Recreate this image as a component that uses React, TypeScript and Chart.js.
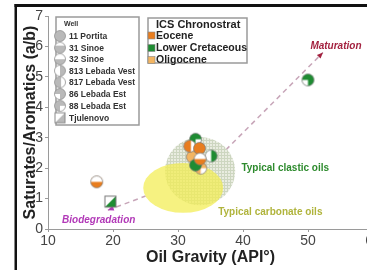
import React, { useEffect, useRef } from "react";
import { Chart, registerables } from "chart.js";
Chart.register(...registerables);

const FONT = "Arial, 'Liberation Sans', sans-serif";

// ---- data ----
const ageGroups = ["Eocene", "Lower Cretaceous", "Oligocene"];
const ageColors = ["#e87d1e", "#1e8c32", "#f3b562"];
const wellNames = [
  "11 Portita",
  "31 Sinoe",
  "32 Sinoe",
  "813 Lebada Vest",
  "817 Lebada Vest",
  "86 Lebada Est",
  "88 Lebada Est",
  "Tjulenovo",
];

const sampleAPI = [32.7, 17.5, 19.6, 50.0, 31.8, 33.3, 32.2, 33.4, 35.1, 33.5, 32.7];
const sampleSA = [2.1, 1.55, 0.9, 4.9, 2.72, 2.65, 2.37, 2.3, 2.4, 2.0, 2.95];
const sampleAge = [
  "Lower Cretaceous",
  "Eocene",
  "Lower Cretaceous",
  "Lower Cretaceous",
  "Eocene",
  "Eocene",
  "Oligocene",
  "Eocene",
  "Lower Cretaceous",
  "Oligocene",
  "Lower Cretaceous",
];
const sampleWell = [
  "11 Portita",
  "32 Sinoe",
  "Tjulenovo",
  "86 Lebada Est",
  "817 Lebada Vest",
  "11 Portita",
  "11 Portita",
  "32 Sinoe",
  "813 Lebada Vest",
  "88 Lebada Est",
  "88 Lebada Est",
];

// trend (biodegradation -> maturation)
const trendAPI = [19.2, 33.4, 52.3];
const trendSA = [0.62, 1.75, 5.8];

// fields: [centre API, centre S/A, half-width API, half-height S/A]
const carbonateField = [30.8, 1.35, 6.15, 0.82];
const clasticField = [33.4, 1.9, 5.4, 1.12];

const annotationText = ["Maturation", "Biodegradation", "Typical clastic oils", "Typical carbonate oils"];
const annotationAPI = [54.3, 17.8, 46.5, 44.2];
const annotationSA = [5.99, 0.3, 2.0, 0.56];

// ---- marker helpers ----
function paintWhite(g: CanvasRenderingContext2D, well: string, cx: number, cy: number, r: number) {
  g.fillStyle = "#fff";
  switch (well) {
    case "31 Sinoe":
      g.fillRect(cx - r - 1, cy - r - 1, 2 * r + 2, r * 0.6 + 1);
      break;
    case "32 Sinoe":
      g.fillRect(cx - r - 1, cy - r - 1, 2 * r + 2, r + 1);
      break;
    case "813 Lebada Vest":
      g.fillRect(cx - r - 1, cy - r - 1, r + 1, 2 * r + 2);
      break;
    case "817 Lebada Vest":
      g.fillRect(cx + r * 0.2, cy - r - 1, r + 1, 2 * r + 2);
      break;
    case "86 Lebada Est":
      g.beginPath();
      g.moveTo(cx, cy);
      g.arc(cx, cy, r + 1, Math.PI * 0.5, Math.PI);
      g.closePath();
      g.fill();
      break;
    case "88 Lebada Est":
      g.beginPath();
      g.moveTo(cx, cy);
      g.arc(cx, cy, r + 1, 0, Math.PI * 0.5);
      g.closePath();
      g.fill();
      break;
    default:
      break;
  }
}

function makeMarker(color: string, well: string, r = 6, edge = "#777"): HTMLCanvasElement {
  const size = Math.ceil(2 * r + 3);
  const c = document.createElement("canvas");
  c.width = size;
  c.height = size;
  const g = c.getContext("2d")!;
  const cx = size / 2;
  const cy = size / 2;
  if (well === "Tjulenovo") {
    const s = 2 * r - 1;
    const x0 = cx - s / 2;
    const y0 = cy - s / 2;
    g.fillStyle = "#fff";
    g.fillRect(x0, y0, s, s);
    g.beginPath();
    g.moveTo(x0 + s, y0);
    g.lineTo(x0 + s, y0 + s);
    g.lineTo(x0, y0 + s);
    g.closePath();
    g.fillStyle = color;
    g.fill();
    g.strokeStyle = edge;
    g.lineWidth = 1;
    g.strokeRect(x0, y0, s, s);
    return c;
  }
  g.save();
  g.beginPath();
  g.arc(cx, cy, r, 0, Math.PI * 2);
  g.fillStyle = color;
  g.fill();
  g.clip();
  paintWhite(g, well, cx, cy, r);
  g.restore();
  g.beginPath();
  g.arc(cx, cy, r, 0, Math.PI * 2);
  g.strokeStyle = edge;
  g.lineWidth = 0.7;
  g.stroke();
  return c;
}

function arrowHead(ctx: CanvasRenderingContext2D, x: number, y: number, ang: number, color: string) {
  const L = 6;
  const W = 2.6;
  ctx.save();
  ctx.translate(x, y);
  ctx.rotate(ang);
  ctx.beginPath();
  ctx.moveTo(0, 0);
  ctx.lineTo(-L, -W);
  ctx.lineTo(-L, W);
  ctx.closePath();
  ctx.fillStyle = color;
  ctx.fill();
  ctx.restore();
}

export default function App() {
  const ref = useRef<HTMLCanvasElement>(null);

  useEffect(() => {
    const canvas = ref.current!;

    const pattern = (() => {
      const p = document.createElement("canvas");
      p.width = 3;
      p.height = 3;
      const g = p.getContext("2d")!;
      g.fillStyle = "#e9ece0";
      g.fillRect(0, 0, 3, 3);
      g.fillStyle = "#cdd6c0";
      g.fillRect(2, 0, 1, 3);
      g.fillRect(0, 2, 3, 1);
      return p;
    })();

    const pointDatasets = ageGroups.map((age, k) => {
      const idx = sampleAge.map((a, i) => (a === age ? i : -1)).filter((i) => i >= 0);
      return {
        label: age,
        data: idx.map((i) => ({ x: sampleAPI[i], y: sampleSA[i] })),
        pointStyle: idx.map((i) => makeMarker(ageColors[k], sampleWell[i])),
        pointRadius: 6,
        order: 1,
      } as any;
    });

    const ellipse = (chart: any, f: number[]) => {
      const xs = chart.scales.x;
      const ys = chart.scales.y;
      const cx = xs.getPixelForValue(f[0]);
      const cy = ys.getPixelForValue(f[1]);
      const rx = Math.abs(xs.getPixelForValue(f[0] + f[2]) - cx);
      const ry = Math.abs(ys.getPixelForValue(f[1] + f[3]) - cy);
      const ctx = chart.ctx as CanvasRenderingContext2D;
      ctx.beginPath();
      ctx.ellipse(cx, cy, rx, ry, 0, 0, Math.PI * 2);
    };

    const customPlugin = {
      id: "custom",
      beforeDraw(chart: any) {
        const ctx = chart.ctx as CanvasRenderingContext2D;
        ctx.save();
        ctx.fillStyle = "#fff";
        ctx.fillRect(0, 0, chart.width, chart.height);
        ctx.fillStyle = "#111";
        ctx.fillRect(14.5, 4, chart.width, 3);
        ctx.fillRect(14.5, 4, 2.5, chart.height);
        ctx.restore();
      },
      afterDatasetDraw(chart: any, args: any) {
        if (args.index !== 0) return;
        const ctx = chart.ctx as CanvasRenderingContext2D;
        const xs = chart.scales.x;
        const ys = chart.scales.y;
        ctx.save();
        // hide the trend line under the fields
        ellipse(chart, carbonateField);
        ctx.fillStyle = "#fff";
        ctx.fill();
        ellipse(chart, clasticField);
        ctx.fillStyle = ctx.createPattern(pattern, "repeat")!;
        ctx.fill();
        ellipse(chart, carbonateField);
        ctx.fillStyle = "rgba(243,237,80,0.72)";
        ctx.fill();
        // arrowheads
        const n = trendAPI.length;
        const p0 = { x: xs.getPixelForValue(trendAPI[0]), y: ys.getPixelForValue(trendSA[0]) };
        const p1 = { x: xs.getPixelForValue(trendAPI[1]), y: ys.getPixelForValue(trendSA[1]) };
        const pa = { x: xs.getPixelForValue(trendAPI[n - 2]), y: ys.getPixelForValue(trendSA[n - 2]) };
        const pb = { x: xs.getPixelForValue(trendAPI[n - 1]), y: ys.getPixelForValue(trendSA[n - 1]) };
        arrowHead(ctx, pb.x, pb.y, Math.atan2(pb.y - pa.y, pb.x - pa.x), "#a3213f");
        arrowHead(ctx, p0.x, p0.y, Math.atan2(p0.y - p1.y, p0.x - p1.x), "#b23ab8");
        ctx.restore();
      },
      afterDatasetsDraw(chart: any) {
        const ctx = chart.ctx as CanvasRenderingContext2D;
        const xs = chart.scales.x;
        const ys = chart.scales.y;
        ctx.save();
        // annotations
        const annStyle = [
          { font: `italic bold 10px ${FONT}`, color: "#a3213f" },
          { font: `italic bold 10px ${FONT}`, color: "#b23ab8" },
          { font: `bold 10px ${FONT}`, color: "#2e8b2e" },
          { font: `bold 10px ${FONT}`, color: "#b0b43c" },
        ];
        ctx.textAlign = "center";
        ctx.textBaseline = "middle";
        annotationText.forEach((t, i) => {
          ctx.font = annStyle[i].font;
          ctx.fillStyle = annStyle[i].color;
          ctx.fillText(t, xs.getPixelForValue(annotationAPI[i]), ys.getPixelForValue(annotationSA[i]));
        });

        // Well legend
        ctx.fillStyle = "#fff";
        ctx.fillRect(56, 17, 83, 108);
        ctx.strokeStyle = "#9a9a9a";
        ctx.lineWidth = 1.5;
        ctx.strokeRect(56, 17, 83, 108);
        ctx.textAlign = "left";
        ctx.fillStyle = "#333";
        ctx.font = `bold 7px ${FONT}`;
        ctx.fillText("Well", 64, 24);
        const rows = [36, 47.7, 59.2, 70.7, 82.3, 94, 105.8, 117.8];
        ctx.font = `bold 8.5px ${FONT}`;
        wellNames.forEach((w, i) => {
          const m = makeMarker("#b9b9b9", w, 5.5, "#8a8a8a");
          ctx.drawImage(m, 60 - m.width / 2, rows[i] - m.height / 2);
          ctx.fillStyle = "#333";
          ctx.fillText(w, 69, rows[i] + 0.5);
        });

        // Chronostrat legend
        ctx.fillStyle = "#fff";
        ctx.fillRect(148, 18, 99, 45);
        ctx.strokeStyle = "#9a9a9a";
        ctx.strokeRect(148, 18, 99, 45);
        ctx.fillStyle = "#222";
        ctx.font = `bold 11px ${FONT}`;
        ctx.fillText("ICS Chronostrat", 156, 24.5);
        const rows2 = [35.5, 48, 60];
        ctx.font = `bold 10.5px ${FONT}`;
        ageGroups.forEach((a, i) => {
          ctx.fillStyle = ageColors[i];
          ctx.fillRect(148, rows2[i] - 3.5, 7, 7);
          ctx.strokeStyle = "#888";
          ctx.lineWidth = 0.6;
          ctx.strokeRect(148, rows2[i] - 3.5, 7, 7);
          ctx.fillStyle = "#222";
          ctx.fillText(a, 156, rows2[i] + 0.5);
        });
        ctx.restore();
      },
    };

    const chart = new Chart(canvas, {
      type: "scatter",
      data: {
        datasets: [
          {
            label: "trend",
            data: trendAPI.map((x, i) => ({ x, y: trendSA[i] })),
            showLine: true,
            borderColor: "rgba(196,160,180,0.95)",
            borderWidth: 1.5,
            borderDash: [5, 4],
            pointRadius: 0,
            order: 3,
          } as any,
          ...pointDatasets,
        ],
      },
      options: {
        responsive: false,
        animation: false,
        devicePixelRatio: 1,
        layout: { padding: { left: 0, top: 16, right: 17, bottom: 0 } },
        plugins: { legend: { display: false }, tooltip: { enabled: false } },
        scales: {
          x: {
            type: "linear",
            min: 10,
            max: 60,
            afterFit: (s: any) => {
              s.height = 41;
            },
            ticks: {
              stepSize: 10,
              autoSkip: false,
              maxRotation: 0,
              padding: 1,
              color: "#444",
              font: { family: FONT, size: 14 },
            },
            grid: { drawOnChartArea: false, drawTicks: true, tickLength: 3, color: "#9a9a9a" },
            border: { color: "#9a9a9a", width: 1 },
            title: {
              display: true,
              text: "Oil Gravity (API°)",
              color: "#222",
              font: { family: FONT, size: 16, weight: "bold" },
              padding: { top: 0, bottom: 2.4 },
            },
          },
          y: {
            type: "linear",
            min: 0,
            max: 7,
            afterFit: (s: any) => {
              s.width = 48;
            },
            ticks: {
              stepSize: 1,
              padding: 2,
              color: "#444",
              font: { family: FONT, size: 14 },
            },
            grid: { drawOnChartArea: false, drawTicks: true, tickLength: 3, color: "#9a9a9a" },
            border: { color: "#9a9a9a", width: 1 },
            title: {
              display: true,
              text: "Saturates/Aromatics (a/b)",
              color: "#222",
              font: { family: FONT, size: 16, weight: "bold" },
              padding: { top: 21.4, bottom: 0 },
            },
          },
        },
      } as any,
      plugins: [customPlugin],
    });
    return () => chart.destroy();
  }, []);

  return (
    <div
      style={{
        position: "absolute",
        left: 0,
        top: 0,
        width: 367,
        height: 270,
        overflow: "hidden",
        background: "#fff",
      }}
    >
      <canvas ref={ref} width={390} height={270} style={{ display: "block", width: 390, height: 270 }} />
    </div>
  );
}
